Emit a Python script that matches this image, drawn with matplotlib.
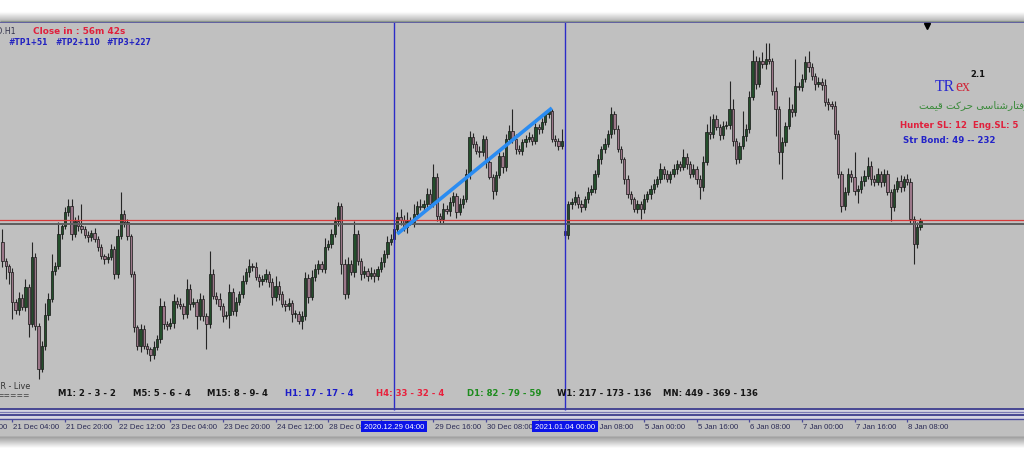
import numpy as np
import matplotlib
matplotlib.use("Agg")
import matplotlib.pyplot as plt
from matplotlib.patches import Rectangle

# ------------------------------------------------------------------ data
# H1 bars; bar index 0 = 21 Dec 04:00, first visible bar is index -3
FIRST_BAR = -3
FIRST_OPEN = 217
CLOSES = [
    198, 193, 187, 157, 149, 161, 152, 172, 135, 202,
    133, 90, 113, 144, 160, 188, 193, 225, 233, 247,
    253, 225, 238, 233, 230, 224, 222, 226, 220, 212,
    203, 200, 202, 210, 185, 223, 245, 237, 223, 185,
    132, 113, 130, 113, 110, 104, 112, 120, 153, 135,
    133, 136, 158, 155, 153, 145, 170, 155, 157, 143,
    160, 143, 135, 185, 163, 160, 153, 143, 144, 167,
    148, 157, 165, 178, 187, 193, 192, 182, 178, 180,
    185, 177, 162, 173, 165, 155, 153, 156, 145, 145,
    138, 143, 181, 162, 182, 190, 195, 190, 212, 215,
    225, 238, 253, 195, 165, 195, 187, 225, 198, 185,
    188, 183, 186, 183, 190, 197, 205, 217, 220, 230,
    242, 239, 232, 238, 237, 245, 253, 252, 255, 265,
    255, 282, 243, 240, 250, 248, 257, 263, 247, 255,
    260, 285, 322, 315, 308, 307, 320, 297, 282, 268,
    284, 303, 292, 320, 328, 320, 310, 308, 317, 320,
    322, 318, 332, 330, 337, 345, 348, 320, 318, 313,
    318, 224, 255, 257, 262, 255, 252, 260, 267, 270,
    285, 300, 310, 315, 325, 345, 330, 310, 300, 280,
    265, 260, 250, 255, 250, 260, 265, 270, 275, 280,
    290, 285, 280, 285, 290, 295, 292, 302, 295, 285,
    290, 280, 272, 297, 327, 325, 340, 332, 324, 333,
    334, 350, 318, 300, 313, 323, 330, 362, 398, 375,
    398, 395, 400, 398, 368, 350, 307, 317, 333, 350,
    347, 373, 372, 380, 397, 392, 383, 375, 377, 374,
    357, 355, 353, 325, 285, 253, 267, 285, 282, 268,
    270, 278, 283, 293, 280, 277, 285, 277, 285, 267,
    252, 270, 278, 272, 280, 277, 240, 215, 232, 238,
]
UPPER_WICK = [
    13, 3, 2, 4, 3, 6, 4, 8, 3, 15,
    4, 3, 5, 12, 6, 17, 4, 12, 3, 5,
    7, 7, 4, 6, 22, 3, 4, 3, 5, 3,
    3, 2, 4, 5, 3, 7, 22, 4, 3, 2,
    3, 2, 5, 4, 3, 2, 6, 4, 8, 5,
    3, 5, 7, 4, 6, 3, 10, 5, 4, 3,
    6, 4, 3, 23, 5, 4, 6, 3, 4, 8,
    4, 5, 3, 6, 4, 7, 3, 5, 3, 4,
    5, 3, 4, 10, 5, 3, 4, 5, 3, 4,
    3, 5, 6, 4, 7, 5, 4, 3, 9, 4,
    5, 4, 4, 3, 5, 7, 4, 13, 4, 3,
    5, 3, 6, 4, 3, 5, 4, 6, 5, 4,
    5, 8, 5, 9, 4, 10, 5, 7, 4, 6,
    5, 13, 4, 3, 6, 4, 5, 4, 3, 6,
    4, 5, 6, 4, 3, 5, 4, 3, 2, 3,
    4, 5, 4, 5, 6, 22, 5, 4, 3, 4,
    5, 3, 4, 3, 4, 3, 2, 2, 4, 3,
    12, 2, 3, 4, 6, 3, 4, 3, 5, 4,
    4, 5, 3, 6, 4, 7, 3, 4, 3, 2,
    4, 3, 2, 4, 3, 5, 3, 4, 5, 3,
    6, 3, 4, 3, 5, 4, 3, 8, 4, 3,
    5, 3, 4, 6, 8, 16, 5, 4, 3, 5,
    4, 28, 10, 3, 4, 25, 5, 6, 11, 5,
    4, 9, 16, 16, 3, 4, 3, 5, 4, 12,
    5, 27, 4, 5, 6, 11, 4, 3, 5, 4,
    6, 4, 3, 5, 4, 3, 5, 6, 4, 25,
    4, 5, 6, 9, 5, 4, 6, 3, 5, 4,
    3, 5, 4, 6, 3, 5, 4, 3, 5, 3,
]
LOWER_WICK = [
    6, 13, 12, 17, 4, 5, 3, 4, 13, 3,
    4, 10, 3, 4, 5, 3, 4, 3, 5, 3,
    4, 6, 3, 5, 4, 3, 5, 4, 3, 4,
    3, 5, 4, 3, 5, 4, 3, 5, 4, 3,
    5, 4, 6, 3, 5, 6, 4, 3, 4, 5,
    4, 3, 5, 4, 3, 5, 4, 6, 3, 13,
    4, 5, 25, 4, 3, 5, 4, 6, 3, 13,
    4, 5, 3, 4, 3, 5, 4, 3, 6, 4,
    3, 5, 8, 4, 6, 3, 5, 4, 8, 4,
    3, 8, 4, 6, 3, 4, 5, 3, 4, 3,
    4, 3, 5, 10, 5, 4, 3, 5, 4, 6,
    4, 5, 3, 6, 4, 3, 5, 4, 3, 4,
    3, 5, 4, 6, 3, 5, 4, 3, 5, 4,
    4, 3, 5, 5, 4, 3, 5, 4, 6, 3,
    4, 3, 5, 4, 3, 5, 4, 6, 2, 8,
    4, 3, 6, 4, 3, 4, 5, 3, 4, 5,
    3, 4, 3, 5, 4, 3, 4, 3, 5, 4,
    3, 3, 4, 5, 3, 4, 5, 3, 4, 3,
    4, 3, 5, 4, 3, 4, 5, 3, 4, 5,
    4, 5, 3, 4, 10, 4, 3, 5, 4, 3,
    4, 5, 3, 4, 3, 5, 4, 3, 5, 4,
    3, 5, 12, 4, 3, 5, 4, 3, 5, 4,
    3, 4, 5, 5, 4, 3, 5, 4, 3, 5,
    3, 4, 5, 3, 4, 27, 12, 27, 4, 3,
    5, 4, 3, 4, 3, 5, 4, 6, 3, 5,
    4, 6, 3, 5, 4, 6, 4, 3, 5, 4,
    12, 4, 5, 3, 6, 4, 3, 5, 4, 3,
    14, 4, 3, 5, 4, 3, 5, 20, 4, 3,
]
GAP_OPENS = {168: 228}          # weekend gap, 4 Jan 00:00 bar

TICK_BARS = [-16, 0, 16, 32, 48, 64, 80, 96, 112, 128, 144, 160,
             176, 192, 208, 224, 240, 256, 272]
# the 29 Dec 00:00 and 31 Dec 00:00 labels are hidden under the cursor boxes
TICK_LABELS = ["18 Dec 12:00", "21 Dec 04:00", "21 Dec 20:00", "22 Dec 12:00",
               "23 Dec 04:00", "23 Dec 20:00", "24 Dec 12:00", "28 Dec 08:00",
               "", "29 Dec 16:00", "30 Dec 08:00", "",
               "4 Jan 08:00", "5 Jan 00:00", "5 Jan 16:00", "6 Jan 08:00",
               "7 Jan 00:00", "7 Jan 16:00", "8 Jan 08:00"]
SEP_BARS = [116, 168]
SEP_LABELS = ["2020.12.29 04:00", "2021.01.04 00:00"]
ASK_LEVEL = 239
BID_LEVEL = 235.5
TREND_BARS = [117, 164]
TREND_PRICES = [225, 351]

TF_LABELS = ["M1: 2 - 3 - 2", "M5: 5 - 6 - 4", "M15: 8 - 9- 4", "H1: 17 - 17 - 4",
             "H4: 33 - 32 - 4", "D1: 82 - 79 - 59", "W1: 217 - 173 - 136",
             "MN: 449 - 369 - 136"]
TP_LABELS = ["#TP1+51", "#TP2+110", "#TP3+227"]
SYMBOL_LABEL = "EURUSD.H1"
CLOSE_LABEL = "Close in : 56m 42s"
LIVE_LABEL = "TRADER - Live"
PERSIAN_LABEL = "رفتارشناسی حرکت قیمت"
HUNTER_LABEL = "Hunter SL: 12  Eng.SL: 5"
BOND_LABEL = "Str Bond: 49 -- 232"

# ------------------------------------------------------------------ helpers
ARABIC_FORMS = {  # isolated, final, initial, medial
    'ا': ('\uFE8D', '\uFE8E', None, None),
    'ر': ('\uFEAD', '\uFEAE', None, None),
    'ف': ('\uFED1', '\uFED2', '\uFED3', '\uFED4'),
    'ت': ('\uFE95', '\uFE96', '\uFE97', '\uFE98'),
    'ش': ('\uFEB5', '\uFEB6', '\uFEB7', '\uFEB8'),
    'ن': ('\uFEE5', '\uFEE6', '\uFEE7', '\uFEE8'),
    'س': ('\uFEB1', '\uFEB2', '\uFEB3', '\uFEB4'),
    'ی': ('\uFEEF', '\uFEF0', '\uFEF3', '\uFEF4'),
    'ح': ('\uFEA1', '\uFEA2', '\uFEA3', '\uFEA4'),
    'ک': ('\uFED9', '\uFEDA', '\uFEDB', '\uFEDC'),
    'ق': ('\uFED5', '\uFED6', '\uFED7', '\uFED8'),
    'م': ('\uFEE1', '\uFEE2', '\uFEE3', '\uFEE4'),
}


def shape_rtl(text):
    out = []
    for i, ch in enumerate(text):
        f = ARABIC_FORMS.get(ch)
        if f is None:
            out.append(ch)
            continue
        prev = text[i - 1] if i > 0 else ''
        nxt = text[i + 1] if i + 1 < len(text) else ''
        jp = prev in ARABIC_FORMS and ARABIC_FORMS[prev][2] is not None
        jn = nxt in ARABIC_FORMS and f[2] is not None
        if jp and jn:
            g = f[3]
        elif jp:
            g = f[1]
        elif jn:
            g = f[2]
        else:
            g = f[0]
        out.append(g)
    return ''.join(reversed(out))


# ------------------------------------------------------------------ build OHLC
closes = np.array(CLOSES, dtype=float)
n = len(closes)
bars = np.arange(FIRST_BAR, FIRST_BAR + n)
opens = np.concatenate([[FIRST_OPEN], closes[:-1]])
for b, o in GAP_OPENS.items():
    opens[b - FIRST_BAR] = o
highs = np.maximum(opens, closes) + np.array(UPPER_WICK)
lows = np.minimum(opens, closes) - np.array(LOWER_WICK)

W, H = 1024, 460
fig = plt.figure(figsize=(W / 100, H / 100), dpi=100)
fig.patch.set_facecolor("white")

# background frame (window shadow + border)
bg = fig.add_axes([0, 0, 1, 1])
bg.set_xlim(0, W)
bg.set_ylim(H, 0)
bg.axis("off")
rows = np.arange(H) + 0.5
shade = np.interp(rows, [0, 13, 21, 22, 437, 438, 449, 460],
                  [1.0, 1.0, 0.74, 0.75, 0.75, 0.62, 1.0, 1.0])
bg.imshow(np.repeat(shade[:, None, None], 3, axis=2), extent=[0, W, H, 0],
          aspect="auto", interpolation="bilinear")
bg.hlines(21.8, 0, W, color="#8a968a", lw=1.0)
bg.hlines(23.6, 0, W, color="#5a5aa0", lw=1.3)

XLIM = (-3.74, 307.5)

# price pane
ax = fig.add_axes([0, 1 - 409 / H, 1, (409 - 24) / H])
ax.set_facecolor("#c0c0c0")
ax.set_xlim(*XLIM)
ax.set_ylim(51, 436)
for s in ax.spines.values():
    s.set_visible(False)
ax.set_xticks([])
ax.set_yticks([])

bull = closes >= opens
body_h = closes - opens
body_h = np.where(np.abs(body_h) < 0.8, 0.8, body_h)
ax.vlines(bars, lows, highs, color="#262626", lw=0.8, zorder=2)
ax.bar(bars, body_h, bottom=opens, width=0.7,
       color=np.where(bull, "#234e2b", "#9c7789"),
       edgecolor="#151515", linewidth=0.5, zorder=3)

ax.axhline(ASK_LEVEL, color="#d83a3a", lw=0.9, zorder=4)
ax.axhline(BID_LEVEL, color="#5e5e5e", lw=1.4, zorder=4)
for sb in SEP_BARS:
    ax.axvline(sb, color="#2c2cc8", lw=1.0, zorder=5)
ax.plot(TREND_BARS, TREND_PRICES, color="#2a8cf2", lw=2.6,
        solid_capstyle="butt", zorder=5)

# time strip
sx = fig.add_axes([0, 1 - 437 / H, 1, (437 - 409) / H])
sx.set_facecolor("#c0c0c0")
sx.set_xlim(*XLIM)
sx.set_ylim(28, 0)
sx.axis("off")
sx.axhspan(0, 11, color="#d4d4e2", zorder=0)
sx.axhline(1.3, color="#3c3c8c", lw=1.3)
sx.axhline(3.9, color="#7a7ab4", lw=0.9)
sx.axhline(6.6, color="#3c3c8c", lw=1.3)
sx.axhline(11.0, color="#4a4a9a", lw=1.0)
sx.vlines(TICK_BARS, 11, 13.8, color="#4a4a9a", lw=0.9)

box_half = 9.9
box_spans = [(sb - box_half, sb + box_half) for sb in SEP_BARS]
for tb, tl in zip(TICK_BARS, TICK_LABELS):
    if not tl:
        continue
    t = sx.text(tb + 0.35, 18.2, tl, ha="left", va="center", fontsize=5.6,
                family="Liberation Sans", color="#2b2b55", zorder=2)
    # labels partly covered by a cursor box are cut at the box edges
    for lo, hi in box_spans:
        if tb < lo < tb + 14:
            clip = Rectangle((XLIM[0], 0), lo - XLIM[0], 28,
                             transform=sx.transData)
            t.set_clip_path(clip)
        elif lo < tb < hi:
            clip = Rectangle((hi, 0), XLIM[1] - hi, 28,
                             transform=sx.transData)
            t.set_clip_path(clip)
for sb, sl in zip(SEP_BARS, SEP_LABELS):
    sx.add_patch(Rectangle((sb - box_half, 12.6), 2 * box_half, 11.2,
                           facecolor="#0c14e8", edgecolor="none", zorder=3))
    sx.text(sb, 18.2, sl, ha="center", va="center", fontsize=5.6,
            family="Liberation Sans", color="white", zorder=4)
sx.vlines(SEP_BARS, 0, 1.5, color="#2c2cc8", lw=1.0)

# overlay texts (pixel coordinates)
ov = fig.add_axes([0, 0, 1, 1], facecolor="none")
ov.set_xlim(0, W)
ov.set_ylim(H, 0)
ov.axis("off")

ov.text(16, 32, SYMBOL_LABEL, ha="right", va="center", fontsize=5.6,
        color="#30304a")
ov.text(33, 32, CLOSE_LABEL, ha="left", va="center", fontsize=6.4,
        fontweight="bold", color="#e0203c")
for x, t in zip([8, 55, 106], TP_LABELS):
    ov.text(x, 42.5, t, ha="left", va="center", fontsize=5.5,
            fontweight="bold", color="#2323c0")

ov.text(30, 387, LIVE_LABEL, ha="right", va="center", fontsize=5.8,
        color="#333333")
ov.text(30, 395.5, "=====", ha="right", va="center", fontsize=5.6,
        color="#444444")
tf_x = [58, 133, 207, 285, 376, 467, 557, 663]
tf_c = ["#151515", "#151515", "#151515", "#1c1cc8", "#e8203c", "#1e8c1e",
        "#151515", "#151515"]
for x, t, c in zip(tf_x, TF_LABELS, tf_c):
    ov.text(x, 393.5, t, ha="left", va="center", fontsize=6.1,
            fontweight="bold", color=c, zorder=1)

ov.plot([927], [27], marker="v", color="black", markersize=4.5)

ov.text(935, 91, "TR", ha="left", va="baseline", fontsize=11.3,
        family="Liberation Serif", color="#2a2ad0")
ov.text(955, 91, "ex", ha="left", va="baseline", fontsize=11.3,
        family="Liberation Serif", color="#d0283a")
ov.text(970, 74.5, "2.1", ha="left", va="center", fontsize=6,
        fontweight="bold", color="#111111")
ov.text(919, 105, shape_rtl(PERSIAN_LABEL), ha="left", va="center",
        fontsize=7.4, family="DejaVu Sans", color="#3a8a3a")
ov.text(900, 125.5, HUNTER_LABEL, ha="left", va="center", fontsize=6.2,
        fontweight="bold", color="#e0203c")
ov.text(903, 141, BOND_LABEL, ha="left", va="center", fontsize=6.2,
        fontweight="bold", color="#2323c8")

fig.savefig("out.png", dpi=100, facecolor="white")
